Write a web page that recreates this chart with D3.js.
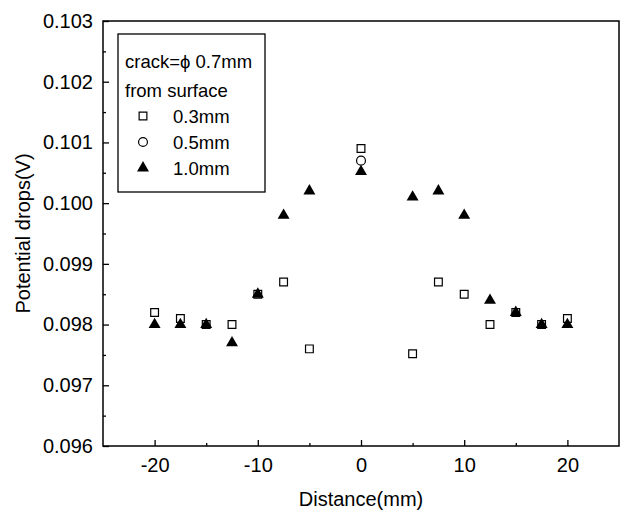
<!DOCTYPE html>
<html>
<head>
<meta charset="utf-8">
<script src="https://cdn.jsdelivr.net/npm/d3@7"></script>
<style>
	body { margin: 0; background: #fff; }
	text { font-family: "Liberation Sans", Arial, sans-serif; fill: #000; }
</style>
</head>
<body>
<script>
	// distances (mm) at which the drops were measured
	var distances = [-20, -17.5, -15, -12.5, -10, -7.5, -5, 0, 5, 7.5, 10, 12.5, 15, 17.5, 20];

	// potential drops (V) for each crack depth from surface
	// (0.5mm points are hidden under the 1.0mm triangles except at 0)
	var drops03 = [0.0982, 0.0981, 0.0980, 0.0980, 0.0985, 0.0987, 0.0976, 0.1009, 0.09752, 0.0987, 0.0985, 0.0980, 0.0982, 0.0980, 0.0981];
	var drops05 = [null, null, null, null, null, null, null, 0.1007, null, null, null, null, null, null, null];
	var drops10 = [0.0980, 0.0980, 0.0980, 0.0977, 0.0985, 0.0998, 0.1002, 0.10052, 0.1001, 0.1002, 0.0998, 0.0984, 0.0982, 0.0980, 0.0980];

	var xTicks = [-20, -10, 0, 10, 20];
	var yTicks = [0.096, 0.097, 0.098, 0.099, 0.100, 0.101, 0.102, 0.103];
	var legendTitle = ["crack=\u03d5 0.7mm", "from surface"];
	var legendLabels = ["0.3mm", "0.5mm", "1.0mm"];

(function() {
	var width = 626, height = 516;
	var mLeft = 103, mRight = 619, mTop = 21, mBottom = 446;

	var svg = d3.select("body").append("svg")
		.attr("width", width)
		.attr("height", height);

	var x = d3.scaleLinear().domain([-25, 25]).range([mLeft, mRight]);
	var y = d3.scaleLinear().domain([0.096, 0.103]).range([mBottom, mTop]);

	// frame
	svg.append("rect")
		.attr("x", mLeft).attr("y", mTop)
		.attr("width", mRight - mLeft).attr("height", mBottom - mTop)
		.attr("fill", "none").attr("stroke", "#000").attr("stroke-width", 1.5);

	// x axis, ticks pointing inward
	var xAxis = svg.append("g").attr("transform", "translate(0," + mBottom + ")")
		.call(d3.axisBottom(x).tickValues(xTicks).tickSize(-6).tickPadding(12).tickFormat(function(d) { return String(d); }));
	xAxis.append("g").call(d3.axisBottom(x).tickValues([-15, -5, 5, 15]).tickSize(-3).tickFormat(""));
	xAxis.selectAll(".domain").remove();
	xAxis.selectAll("line").attr("stroke", "#000").attr("stroke-width", 1.3);
	xAxis.selectAll("text").style("font-size", "20px").attr("dy", "0.71em");

	var yAxis = svg.append("g").attr("transform", "translate(" + mLeft + ",0)")
		.call(d3.axisLeft(y).tickValues(yTicks).tickSize(-6).tickPadding(10).tickFormat(d3.format(".3f")));
	yAxis.append("g").call(d3.axisLeft(y).tickValues([0.0965, 0.0975, 0.0985, 0.0995, 0.1005, 0.1015, 0.1025]).tickSize(-3).tickFormat(""));
	yAxis.selectAll(".domain").remove();
	yAxis.selectAll("line").attr("stroke", "#000").attr("stroke-width", 1.3);
	yAxis.selectAll("text").style("font-size", "20px");

	// axis titles
	svg.append("text")
		.attr("x", (mLeft + mRight) / 2).attr("y", 506)
		.attr("text-anchor", "middle").style("font-size", "20px")
		.text("Distance(mm)");
	svg.append("text")
		.attr("transform", "translate(30," + ((mTop + mBottom) / 2) + ") rotate(-90)")
		.attr("text-anchor", "middle").style("font-size", "20px")
		.text("Potential drops(V)");

	var square = d3.symbol().type(d3.symbolSquare).size(60);
	var circle = d3.symbol().type(d3.symbolCircle).size(62);
	var tri = d3.symbol().type(d3.symbolTriangle).size(62);

	function styleMark(sel, kind) {
		if (kind === "square") {
			sel.attr("d", square).attr("fill", "#fff").attr("stroke", "#000").attr("stroke-width", 1.2);
		} else if (kind === "circle") {
			sel.attr("d", circle).attr("fill", "#fff").attr("stroke", "#000").attr("stroke-width", 1.2);
		} else {
			sel.attr("d", tri).attr("fill", "#000");
		}
	}

	function drawSeries(values, kind) {
		var pts = svg.append("g").selectAll("path")
			.data(distances.map(function(d, i) { return [d, values[i]]; })
				.filter(function(d) { return d[1] !== null; }))
			.enter()
			.append("path")
			.attr("transform", function(d) { return "translate(" + x(d[0]) + "," + y(d[1]) + ")"; });
		styleMark(pts, kind);
	}

	drawSeries(drops03, "square");
	drawSeries(drops05, "circle");
	drawSeries(drops10, "triangle");

	// legend
	var lg = svg.append("g");
	lg.append("rect")
		.attr("x", 118).attr("y", 34).attr("width", 147).attr("height", 158)
		.attr("fill", "#fff").attr("stroke", "#000").attr("stroke-width", 1.3);
	lg.selectAll("text.title")
		.data(legendTitle)
		.enter().append("text")
		.attr("class", "title")
		.attr("x", 125)
		.attr("y", function(d, i) { return 68 + i * 29; })
		.style("font-size", "18.5px")
		.text(function(d) { return d; });

	var kinds = ["square", "circle", "triangle"];
	legendLabels.forEach(function(label, i) {
		var cy = 116 + i * 26;
		var sym = lg.append("path").attr("transform", "translate(143," + cy + ")");
		styleMark(sym, kinds[i]);
		lg.append("text")
			.attr("x", 173).attr("y", cy + 7)
			.style("font-size", "18.5px")
			.text(label);
	});
}());
</script>
</body>
</html>
